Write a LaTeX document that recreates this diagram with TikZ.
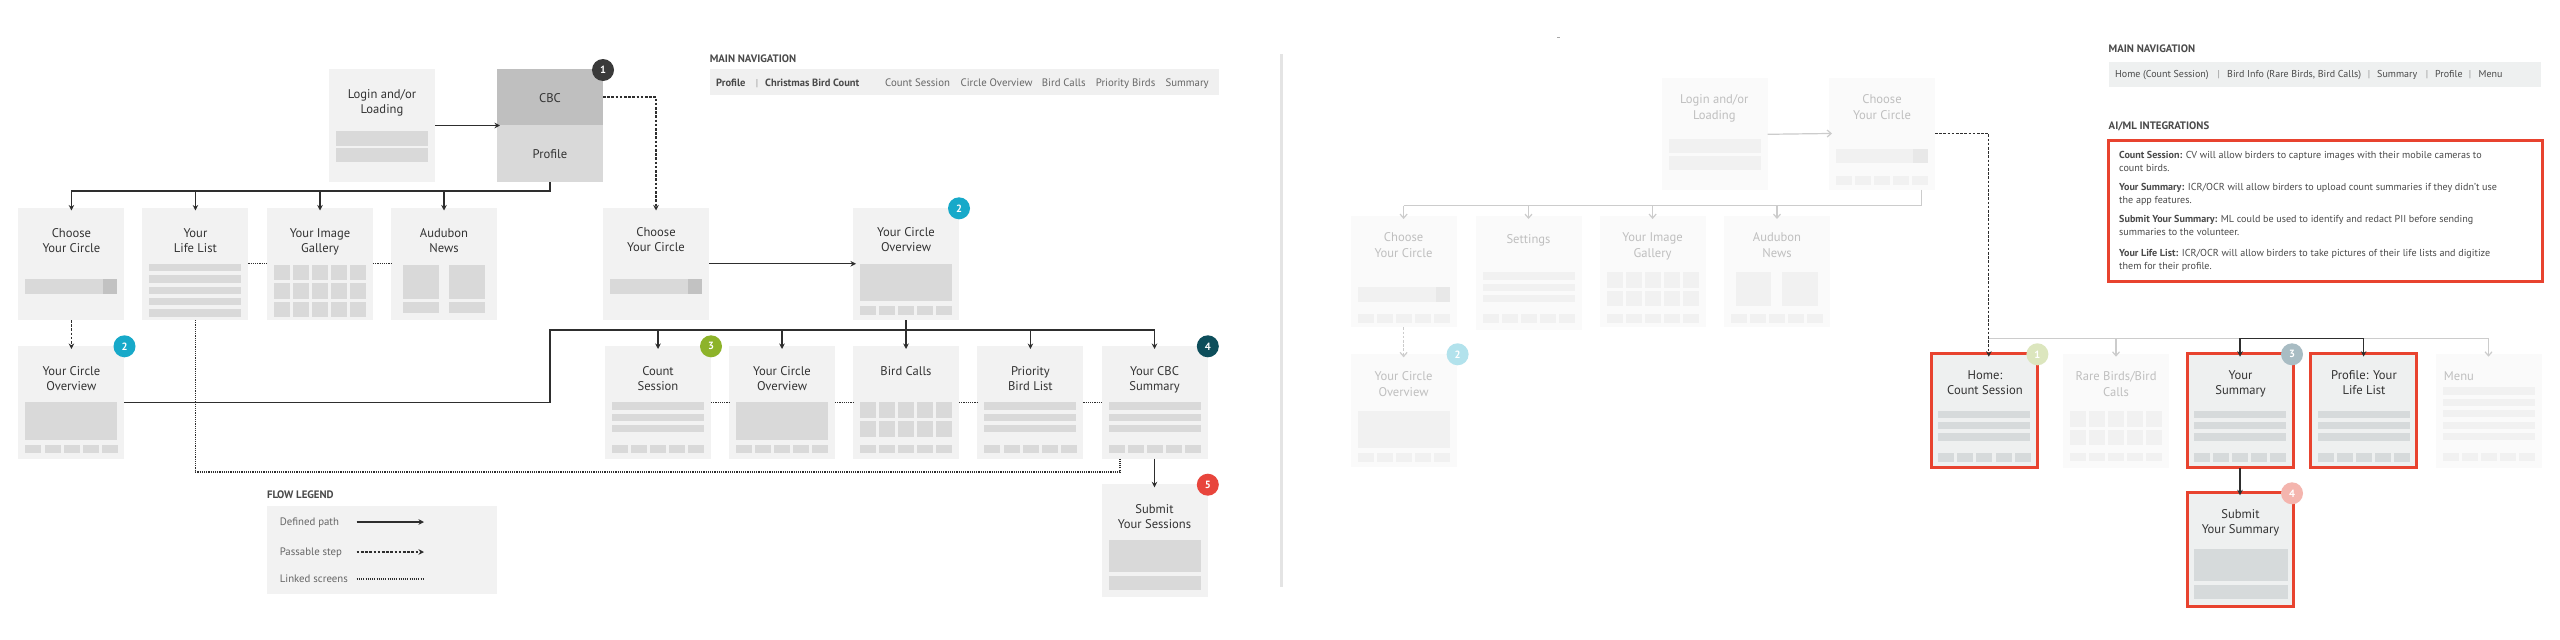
\documentclass[tikz,border=0pt]{standalone}
\usepackage{fontspec}
\setmainfont{PT Sans}
\usetikzlibrary{arrows.meta,calc}
\definecolor{boxg}{HTML}{F2F2F2}
\definecolor{inng}{HTML}{D9D9D9}
\definecolor{innd}{HTML}{C2C2C2}
\definecolor{cbcd}{HTML}{BFBFBF}
\definecolor{txt}{HTML}{333333}
\definecolor{linec}{HTML}{2E2E2E}
\definecolor{fbox}{HTML}{FAFAFA}
\definecolor{finn}{HTML}{F1F1F1}
\definecolor{fdark}{HTML}{E8E8E8}
\definecolor{ftxt}{HTML}{BFBFBF}
\definecolor{flinec}{HTML}{CCCCCC}
\definecolor{hbox}{HTML}{EEF0F0}
\definecolor{hinn}{HTML}{D6DADB}
\definecolor{redc}{HTML}{E8432F}
\definecolor{navg}{HTML}{F0F0F0}
\definecolor{navr}{HTML}{EEF0F0}
\definecolor{navt}{HTML}{4A4A4A}
\definecolor{navl}{HTML}{666666}
\definecolor{divc}{HTML}{E4E4E4}
\definecolor{bdgA}{HTML}{3A3A3A}
\definecolor{bdgB}{HTML}{17A9C9}
\definecolor{bdgC}{HTML}{8DB32A}
\definecolor{bdgD}{HTML}{0D4E5B}
\definecolor{bdgE}{HTML}{E8453C}
\definecolor{fbdgA}{HTML}{DCE6BE}
\definecolor{fbdgB}{HTML}{B2E2EC}
\definecolor{fbdgC}{HTML}{A8BCC3}
\definecolor{fbdgD}{HTML}{F4B5AE}
\newcommand\InSq[4]{\foreach \k in {0,...,4}{\fill[#3] ({#1+7+\k*19.1},{#2+#4}) rectangle ++(16,8.5);}}
\newcommand\InBars[6]{\foreach \k in {1,...,#5}{\fill[#3] ({#1+7},{#2+#4+(\k-1)*#6}) rectangle ++(92,7.3);}}
\newcommand\InGrid[6]{\foreach \r in {1,...,#5}{\foreach \c in {0,...,4}{\fill[#3] ({#1+7+\c*19.1},{#2+#4+(\r-1)*#6}) rectangle ++(16,15.5);}}}
\newcommand\InRect[7]{\fill[#3] ({#1+#4},{#2+#5}) rectangle ({#1+#6},{#2+#7});}
\tikzset{
 scr/.style={rectangle, fill=boxg, draw=none, anchor=north west, minimum width=106pt, minimum height=112.5pt, inner sep=0pt, outer sep=0pt},
 fscr/.style={scr, fill=fbox},
 hscr/.style={scr, fill=hbox, draw=redc, line width=3pt},
 ttl/.style={font=\fontsize{12.6}{15}\selectfont, text=txt, align=center, anchor=base, inner sep=0pt},
 ttlii/.style={ttl, yshift=-15pt},
 fttl/.style={ttl, text=ftxt, font=\fontsize{12.6}{16.5}\selectfont},
 fttlii/.style={fttl, yshift=-16.5pt},
 sect/.style={font=\bfseries\fontsize{10.8}{12}\selectfont, text=navt, anchor=base west, inner sep=0pt},
 navb/.style={font=\bfseries\fontsize{10.5}{12}\selectfont, text=navt, anchor=base west, inner sep=0pt},
 navn/.style={font=\fontsize{10.8}{12}\selectfont, text=navl, anchor=base west, inner sep=0pt},
 navr/.style={font=\fontsize{10}{12}\selectfont, text=navt, anchor=base west, inner sep=0pt},
 navs/.style={font=\fontsize{10}{12}\selectfont, text=navl!70, anchor=base, inner sep=0pt},
 legtxt/.style={font=\fontsize{10.8}{12}\selectfont, text=navl, anchor=base west, inner sep=0pt},
 aitxt/.style={font=\fontsize{10.1}{13.3}\selectfont, text=navt, align=left, anchor=base west, inner sep=0pt, yshift=-13.3pt},
 tip/.style={-{Stealth[length=5.5pt,width=5.5pt]}},
 flow/.style={draw=linec, line width=1.4pt, tip, shorten >=-3pt},
 passd/.style={draw=linec, line width=1.3pt, dash pattern=on 2.6pt off 1.6pt, tip, shorten >=-3pt},
 lnk/.style={draw=linec, line width=1.2pt, dash pattern=on 1.1pt off 1.1pt},
 plain/.style={draw=linec, line width=1.4pt},
 fplain/.style={draw=flinec, line width=1.2pt},
 fflow/.style={draw=flinec, line width=1.2pt, -{Straight Barb[length=4pt,width=7pt]}, shorten >=-3pt},
 fpass/.style={draw=flinec, line width=1.2pt, dash pattern=on 2.6pt off 1.6pt, -{Straight Barb[length=4pt,width=7pt]}, shorten >=-3pt},
 badge/.style={circle, minimum size=22pt, inner sep=0pt, text=white, font=\bfseries\fontsize{10.5}{10.5}\selectfont},
}
\begin{document}
\begin{tikzpicture}[x=1pt,y=-1pt]
\path[use as bounding box] (0,0) rectangle (2560,640);
\fill[white] (0,0) rectangle (2560,640);

%================ LEFT PANEL ================
% Login
\node[scr, minimum height=113pt] (login) at (329,69) {};
\InRect{329}{69}{inng}{7}{62}{99}{77}
\InRect{329}{69}{inng}{7}{79}{99}{93}
\node[ttlii] (login-t) at (382,98) {Login and/or\\Loading};
% CBC / Profile
\node[scr, fill=cbcd, minimum height=56pt] (cbc) at (497,69) {};
\node[scr, fill=inng, minimum height=57pt] (profile) at (497,125) {};
\node[ttl] (cbc-t) at (550,102) {CBC};
\node[ttl] (profile-t) at (550,158) {Profile};
% Row 2
\node[scr] (choose1) at (18.4,207.5) {};
\InRect{18.4}{207.5}{inng}{7}{71}{99}{86.5}
\InRect{18.4}{207.5}{innd}{84.5}{71}{99}{86.5}
\node[ttlii] (choose1-t) at (71.4,237) {Choose\\Your Circle};
\node[scr] (lifelist) at (142.4,207.5) {};
\InBars{142.4}{207.5}{inng}{56.5}{5}{11.3}
\node[ttlii] (lifelist-t) at (195.4,237) {Your\\Life List};
\node[scr] (gallery) at (267,207.5) {};
\InGrid{267}{207.5}{inng}{57}{3}{18.7}
\node[ttlii] (gallery-t) at (320,237) {Your Image\\Gallery};
\node[scr] (news) at (391,207.5) {};
\InRect{391}{207.5}{inng}{12}{57}{47.8}{91}
\InRect{391}{207.5}{inng}{58}{57}{93.5}{91}
\InRect{391}{207.5}{inng}{12}{94}{47.8}{105}
\InRect{391}{207.5}{inng}{58}{94}{93.5}{105}
\node[ttlii] (news-t) at (444,237) {Audubon\\News};
\node[scr] (choose2) at (603,207.5) {};
\InRect{603}{207.5}{inng}{7}{71}{99}{86.5}
\InRect{603}{207.5}{innd}{85}{71}{99}{86.5}
\node[ttlii] (choose2-t) at (656,236) {Choose\\Your Circle};
\node[scr] (overview2) at (853,207.5) {};
\InRect{853}{207.5}{inng}{7}{56.5}{99}{93.5}
\InSq{853}{207.5}{inng}{98.5}
\node[ttlii] (overview2-t) at (906,236) {Your Circle\\Overview};
% Row 3
\node[scr] (overview1) at (18.4,346) {};
\InRect{18.4}{346}{inng}{7}{56}{99}{93.7}
\InSq{18.4}{346}{inng}{98.5}
\node[ttlii] (overview1-t) at (71.4,375) {Your Circle\\Overview};
\node[scr] (count) at (605,346) {};
\InBars{605}{346}{inng}{56.3}{3}{11.3}
\InSq{605}{346}{inng}{98.5}
\node[ttlii] (count-t) at (658,375) {Count\\Session};
\node[scr] (overview3) at (729,346) {};
\InRect{729}{346}{inng}{7}{56.3}{99}{93.5}
\InSq{729}{346}{inng}{98.5}
\node[ttlii] (overview3-t) at (782,375) {Your Circle\\Overview};
\node[scr] (calls) at (853,346) {};
\InGrid{853}{346}{inng}{56.3}{2}{18.7}
\InSq{853}{346}{inng}{98.5}
\node[ttl] (calls-t) at (906,375) {Bird Calls};
\node[scr] (prio) at (977.4,346) {};
\InBars{977.4}{346}{inng}{56.3}{3}{11.3}
\InSq{977.4}{346}{inng}{98.5}
\node[ttlii] (prio-t) at (1030.4,375) {Priority\\Bird List};
\node[scr] (cbcsum) at (1101.5,346) {};
\InBars{1101.5}{346}{inng}{56.3}{3}{11.3}
\InSq{1101.5}{346}{inng}{98.5}
\node[ttlii] (cbcsum-t) at (1154.5,375) {Your CBC\\Summary};
\node[scr] (submit) at (1101.5,484.3) {};
\InRect{1101.5}{484.3}{inng}{7}{56}{99}{87.7}
\InRect{1101.5}{484.3}{inng}{7}{91.7}{99}{105.4}
\node[ttlii] (submit-t) at (1154.5,513.3) {Submit\\Your Sessions};

% connectors left
\draw[flow] (login.east) -- (login.east -| profile.west);
\coordinate (bus1) at (550,191);
\draw[plain] (profile.south) -- (bus1) -- (bus1 -| choose1.north);
\foreach \n in {choose1,lifelist,gallery,news}{\draw[flow] (bus1 -| \n.north) -- (\n.north);}
\draw[passd] (cbc.east) -| (choose2.north);
\draw[flow] (choose2.east) -- (overview2.west);
\draw[passd] (choose1.south) -- (overview1.north);
\coordinate (bus2) at (550,330);
\draw[plain] (overview1.east) -| (bus2) -- (bus2 -| cbcsum.north);
\draw[plain] (overview2.south) -- (overview2.south |- bus2);
\foreach \n in {count,overview3,calls,prio,cbcsum}{\draw[flow] (bus2 -| \n.north) -- (\n.north);}
\draw[flow] (cbcsum.south) -- (submit.north);
\draw[lnk] (lifelist.east) -- (gallery.west);
\draw[lnk] (gallery.east) -- (news.west);
\draw[lnk] (count.east) -- (overview3.west);
\draw[lnk] (overview3.east) -- (calls.west);
\draw[lnk] (calls.east) -- (prio.west);
\draw[lnk] (prio.east) -- (cbcsum.west);
\coordinate (lk) at (1120,472);
\draw[lnk] (lifelist.south) |- (lk) -- (lk |- cbcsum.south);

% badges left
\node[badge, fill=bdgA] (bA) at (603,70) {1};
\node[badge, fill=bdgB] (bB1) at (959,208.3) {2};
\node[badge, fill=bdgB] (bB2) at (124.5,346.3) {2};
\node[badge, fill=bdgC] (bC) at (711,346.3) {3};
\node[badge, fill=bdgD] (bD) at (1207.8,346.3) {4};
\node[badge, fill=bdgE] (bE) at (1207.8,484.7) {5};

% main navigation left
\node[sect] (nav1-t) at (709.6,62) {MAIN NAVIGATION};
\node[scr, fill=navg, minimum width=509.4pt, minimum height=25.4pt] (nav1) at (709.6,69.3) {};
\node[navb] (n1a) at (716,86.5) {Profile};
\node[navs] (n1b) at (757,86.5) {|};
\node[navb] (n1c) at (765,86.5) {Christmas Bird Count};
\node[navn] (n1d) at (885,86.5) {Count Session};
\node[navn] (n1e) at (960.4,86.5) {Circle Overview};
\node[navn] (n1f) at (1041.7,86.5) {Bird Calls};
\node[navn] (n1g) at (1095.7,86.5) {Priority Birds};
\node[navn] (n1h) at (1165.4,86.5) {Summary};

% flow legend
\node[sect] (leg-t) at (267,498) {FLOW LEGEND};
\node[scr, minimum width=230pt, minimum height=87.7pt] (legbox) at (267,506) {};
\node[legtxt] (lg1) at (279.6,525.8) {Defined path};
\node[legtxt] (lg2) at (279.6,555.8) {Passable step};
\node[legtxt] (lg3) at (279.6,582.8) {Linked screens};
\coordinate (l1a) at (356.7,522); \coordinate (l1b) at (424,522);
\coordinate (l2a) at (356.7,552); \coordinate (l2b) at (424,552);
\coordinate (l3a) at (356.7,579); \coordinate (l3b) at (424.5,579);
\draw[flow, shorten >=0pt] (l1a) -- (l1b);
\draw[passd, shorten >=0pt] (l2a) -- (l2b);
\draw[lnk] (l3a) -- (l3b);

% divider
\draw[divc, line width=3pt] (1281,54) -- (1281,587);
\draw[gray!70, line width=0.8pt] (1557,37.7) -- (1559.5,37.7);

%================ RIGHT PANEL ================
\node[fscr, minimum height=112pt] (login3) at (1661.6,78.3) {};
\InRect{1661.6}{78.3}{finn}{7}{60.7}{99}{75}
\InRect{1661.6}{78.3}{finn}{7}{77.7}{99}{92}
\node[fttlii] (login3-t) at (1714.3,103) {Login and/or\\Loading};
\node[fscr, minimum height=112pt] (choose3) at (1829,77.5) {};
\InRect{1829}{77.5}{finn}{7}{71.2}{99}{85.8}
\InRect{1829}{77.5}{fdark}{84}{71.2}{99}{85.8}
\InSq{1829}{77.5}{finn}{98.5}
\node[fttlii] (choose3-t) at (1882,103) {Choose\\Your Circle};
% row 2 right
\node[fscr, minimum height=111.3pt] (choose4) at (1350.6,216) {};
\InRect{1350.6}{216}{finn}{7}{71}{99}{86}
\InRect{1350.6}{216}{fdark}{85}{71}{99}{86}
\InSq{1350.6}{216}{finn}{98}
\node[fttlii] (choose4-t) at (1403.6,241.3) {Choose\\Your Circle};
\node[fscr, minimum height=114pt] (settings) at (1475.5,216) {};
\InBars{1475.5}{216}{finn}{56.3}{3}{11.4}
\InSq{1475.5}{216}{finn}{98}
\node[fttl] (settings-t) at (1528.5,243) {Settings};
\node[fscr, minimum height=111.3pt] (gallery4) at (1599.6,216) {};
\InGrid{1599.6}{216}{finn}{56.3}{2}{18.4}
\InSq{1599.6}{216}{finn}{98}
\node[fttlii] (gallery4-t) at (1652.6,241.3) {Your Image\\Gallery};
\node[fscr, minimum height=111.3pt] (news4) at (1724,216) {};
\InRect{1724}{216}{finn}{12}{56}{47.4}{90}
\InRect{1724}{216}{finn}{58.4}{56}{93.6}{90}
\InSq{1724}{216}{finn}{98}
\node[fttlii] (news4-t) at (1777,241.3) {Audubon\\News};
\node[fscr] (overview4) at (1350.6,354.3) {};
\InRect{1350.6}{354.3}{finn}{7}{56.7}{99.4}{94}
\InSq{1350.6}{354.3}{finn}{98.7}
\node[fttlii] (overview4-t) at (1403.6,380) {Your Circle\\Overview};
% row 3 right
\node[hscr, minimum height=114pt] (home) at (1931.2,353.7) {};
\InBars{1931.2}{353.7}{hinn}{57.3}{3}{11.1}
\InSq{1931.2}{353.7}{hinn}{99.3}
\node[ttlii] (home-t) at (1985,379.7) {Home:\\Count Session};
\node[fscr, minimum height=114pt] (rare) at (2063,353.7) {};
\InGrid{2063}{353.7}{finn}{57.3}{2}{18.7}
\InSq{2063}{353.7}{finn}{99}
\node[fttlii] (rare-t) at (2116,380) {Rare Birds/Bird\\Calls};
\node[hscr, minimum height=114pt] (sumR) at (2187,353.7) {};
\InBars{2187}{353.7}{hinn}{57.3}{3}{11.1}
\InSq{2187}{353.7}{hinn}{99.3}
\node[ttlii] (sumR-t) at (2240.5,379.7) {Your\\Summary};
\node[hscr, minimum height=114pt] (profR) at (2310.6,353.7) {};
\InBars{2310.6}{353.7}{hinn}{57.3}{3}{11.1}
\InSq{2310.6}{353.7}{hinn}{99.3}
\node[ttlii] (profR-t) at (2364,379.7) {Profile: Your\\Life List};
\node[fscr, minimum height=114pt] (menu) at (2435.5,353.7) {};
\InBars{2435.5}{353.7}{finn}{33.6}{5}{11.4}
\InSq{2435.5}{353.7}{finn}{99}
\node[fttl, anchor=base west] (menu-t) at (2443.7,380.3) {Menu};
\node[hscr, minimum height=113.7pt] (submitR) at (2187,492.3) {};
\InRect{2187}{492.3}{hinn}{7.4}{56.7}{100.6}{88.4}
\InRect{2187}{492.3}{hinn}{7.4}{92.7}{100.6}{106.7}
\node[ttlii] (submitR-t) at (2240.5,518.3) {Submit\\Your Summary};

% connectors right
\draw[fflow] (login3.east) -- (choose3.west);
\coordinate (bus3) at (1921.7,205.7);
\draw[fplain] ([xshift=39.7pt]choose3.south) |- (bus3 -| choose4.north);
\foreach \n in {choose4,settings,gallery4,news4}{\draw[fflow] (bus3 -| \n.north) -- (\n.north);}
\draw[fpass] (choose4.south) -- (overview4.north);
\coordinate (bus4) at (1988.8,338.3);
\draw[fplain] (bus4) -- (bus4 -| menu.north);
\draw[fflow] (bus4 -| rare.north) -- (rare.north);
\draw[fflow] (bus4 -| menu.north) -- (menu.north);
\draw[passd] (choose3.east) -| ([xshift=4.6pt]home.north);
\draw[plain, {Stealth[length=5.5pt,width=5.5pt]}-{Stealth[length=5.5pt,width=5.5pt]}, shorten <=-3pt, shorten >=-3pt] (sumR.north) -- (sumR.north |- bus4) -- (profR.north |- bus4) -- (profR.north);
\draw[flow] (sumR.south) -- (submitR.north);

% badges right
\node[badge, fill=fbdgB] (fbB) at (1457.6,354.3) {2};
\node[badge, fill=fbdgA] (fbA) at (2037.4,354.3) {1};
\node[badge, fill=fbdgC] (fbC) at (2292,354.3) {3};
\node[badge, fill=fbdgD] (fbD) at (2292,493.3) {4};

% main navigation right
\node[sect] (nav2-t) at (2108.5,52.3) {MAIN NAVIGATION};
\node[scr, fill=navr, minimum width=432.8pt, minimum height=24.7pt] (nav2) at (2108.5,62.3) {};
\node[navr] (n2a) at (2115,77.8) {Home (Count Session)};
\node[navs] (n2b) at (2218.7,77.8) {|};
\node[navr] (n2c) at (2227,77.8) {Bird Info (Rare Birds, Bird Calls)};
\node[navs] (n2d) at (2369,77.8) {|};
\node[navr] (n2e) at (2377,77.8) {Summary};
\node[navs] (n2f) at (2427,77.8) {|};
\node[navr] (n2g) at (2435,77.8) {Profile};
\node[navs] (n2h) at (2470,77.8) {|};
\node[navr] (n2i) at (2478.4,77.8) {Menu};

% AI/ML
\node[sect] (ai-t) at (2108.5,129) {AI/ML INTEGRATIONS};
\node[scr, fill=white, draw=redc, line width=3pt, minimum width=433.5pt, minimum height=140.7pt] (aibox) at (2108.5,140.3) {};
\node[aitxt] (ai1) at (2119,158.3) {\textbf{Count Session:} CV will allow birders to capture images with their mobile cameras to\\count birds.};
\node[aitxt] (ai2) at (2119,190) {\textbf{Your Summary:} ICR/OCR will allow birders to upload count summaries if they didn't use\\the app features.};
\node[aitxt] (ai3) at (2119,222.3) {\textbf{Submit Your Summary:} ML could be used to identify and redact PII before sending\\summaries to the volunteer.};
\node[aitxt] (ai4) at (2119,256) {\textbf{Your Life List:} ICR/OCR will allow birders to take pictures of their life lists and digitize\\them for their profile.};
\end{tikzpicture}
\end{document}
